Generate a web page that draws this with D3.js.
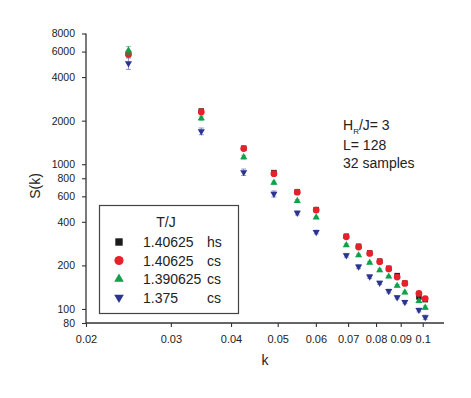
<!DOCTYPE html>
<html>
<head>
<meta charset="utf-8">
<script src="https://cdn.jsdelivr.net/npm/d3@7"></script>
<style>
    body { margin: 0; background: #fff; }
    svg { display: block; }
</style>
</head>
<body>
<script>
// wave vectors k and structure factor S(k) for each run
const kValues = [0.0245, 0.0347, 0.0425, 0.0491, 0.0549, 0.0601, 0.0694, 0.0736, 0.0776, 0.0814, 0.0850, 0.0885, 0.0918, 0.0982, 0.1012];

const sHs140625 = [5800, 2330, 1290, 875, 645, 486, 318, 271, 244, 214, 191, 170, 151, 121, 116];
const sCs140625 = [5740, 2295, 1283, 860, 641, 482, 315, 268, 242, 212, 189, 166, 150, 128, 118];
const sCs1390625 = [6110, 2076, 1118, 746, 558, 429, 276, 235, 209, 185, 167.5, 144.7, 130, 113.5, 102];
const sCs1375 = [4970, 1689, 881, 624, 461, 340, 235, 196, 167.5, 151.6, 133, 120.4, 111.7, 98.4, 87.7];

const errHs140625 = [250, 50, 25, 15, 10, 8, 5, 4, 4, 3, 3, 3, 2, 2, 2];
const errCs140625 = [250, 50, 25, 15, 10, 8, 5, 4, 4, 3, 3, 3, 2, 2, 2];
const errCs1390625 = [400, 70, 35, 20, 12, 8, 6, 5, 4, 4, 3, 3, 3, 3, 3];
const errCs1375 = [450, 90, 45, 30, 15, 10, 7, 6, 5, 4, 4, 3, 3, 3, 3];

const seriesTemps = ["1.40625", "1.40625", "1.390625", "1.375"];
const seriesKinds = ["hs", "cs", "cs", "cs"];

const xTicks = [0.02, 0.03, 0.04, 0.05, 0.06, 0.07, 0.08, 0.09, 0.1];
const yTicks = [80, 100, 200, 400, 600, 800, 1000, 2000, 4000, 6000, 8000];

const notes = ["L= 128", "32 samples"];

const FONT = '"Liberation Sans", Arial, sans-serif';

const series = [
    {values: sHs140625, errors: errHs140625, color: "#1b1b1b", shape: "square"},
    {values: sCs140625, errors: errCs140625, color: "#e8202a", shape: "circle"},
    {values: sCs1390625, errors: errCs1390625, color: "#0fa14a", shape: "up"},
    {values: sCs1375, errors: errCs1375, color: "#2b3590", shape: "down"}
].map((s, i) => ({...s, temp: seriesTemps[i], kind: seriesKinds[i]}));

const width = 471, height = 398;

const svg = d3.select("body").append("svg")
    .attr("width", width)
    .attr("height", height);

const xScale = d3.scaleLog().domain([0.02, 0.1107]).range([86, 444]);
const yScale = d3.scaleLog().domain([80, 8000]).range([323, 33.5]);

function markerPath(shape, scale) {
    const s = scale || 1;
    if (shape === "square") return d3.symbol(d3.symbolSquare, 30 * s * s)();
    if (shape === "circle") return d3.symbol(d3.symbolCircle, 36 * s * s)();
    return d3.symbol(d3.symbolTriangle, 22 * s * s)();
}

function renderAxes() {
    const yAxis = d3.axisLeft(yScale)
        .tickValues(yTicks)
        .tickFormat(d3.format("d"))
        .tickSize(4)
        .tickPadding(7);
    const gy = svg.append("g")
        .attr("transform", "translate(86,0)")
        .style("font-size", "10.5px")
        .style("font-family", FONT)
        .call(yAxis);

    const xAxis = d3.axisBottom(xScale)
        .tickValues(xTicks)
        .tickFormat((d) => d)
        .tickSize(4)
        .tickPadding(8);
    const gx = svg.append("g")
        .attr("transform", "translate(0,323)")
        .style("font-size", "11px")
        .style("font-family", FONT)
        .call(xAxis);

    [gx, gy].forEach((g) => {
        g.select(".domain").attr("stroke", "#333").attr("stroke-width", 1.3);
        g.selectAll(".tick line").attr("stroke", "#333").attr("stroke-width", 1.1);
        g.selectAll(".tick text").attr("fill", "#222");
    });
    // straight axis lines without end caps
    gy.select(".domain").attr("d", "M0," + yScale(8000) + "V323");
    gx.select(".domain").attr("d", "M86,0H444");

    svg.append("text")
        .attr("transform", "translate(40,186) rotate(-90)")
        .attr("text-anchor", "middle")
        .style("font-family", FONT)
        .style("font-size", "14px")
        .attr("fill", "#222")
        .text("S(k)");

    svg.append("text")
        .attr("x", 265)
        .attr("y", 365)
        .attr("text-anchor", "middle")
        .style("font-family", FONT)
        .style("font-size", "14px")
        .attr("fill", "#222")
        .text("k");
}

function renderSeries() {
    series.forEach((s) => {
        const g = svg.append("g");
        const pts = kValues.map((k, i) => ({k: k, v: s.values[i], e: s.errors[i]}));

        // error bars
        g.selectAll("path.err")
            .data(pts)
            .enter()
            .append("path")
            .attr("class", "err")
            .attr("fill", "none")
            .attr("stroke", s.color)
            .attr("stroke-opacity", 0.5)
            .attr("stroke-width", 1)
            .attr("d", function (d) {
                const x = xScale(d.k);
                const y1 = yScale(d.v + d.e), y2 = yScale(d.v - d.e);
                return "M" + (x - 2.5) + "," + y1 + "H" + (x + 2.5)
                    + "M" + x + "," + y1 + "V" + y2
                    + "M" + (x - 2.5) + "," + y2 + "H" + (x + 2.5);
            });

        g.selectAll("path.mark")
            .data(pts)
            .enter()
            .append("path")
            .attr("class", "mark")
            .attr("fill", s.color)
            .attr("d", markerPath(s.shape))
            .attr("transform", function (d) {
                const t = "translate(" + xScale(d.k) + "," + yScale(d.v) + ")";
                return s.shape === "down" ? t + " rotate(180)" : t;
            });
    });
}

function renderLegend() {
    const g = svg.append("g").style("font-family", FONT);
    g.append("rect")
        .attr("x", 99.5).attr("y", 205.5)
        .attr("width", 139).attr("height", 108)
        .attr("fill", "#fff")
        .attr("stroke", "#444")
        .attr("stroke-width", 1.2);

    g.append("text")
        .attr("x", 166).attr("y", 227)
        .attr("text-anchor", "middle")
        .style("font-size", "14px")
        .attr("fill", "#222")
        .text("T/J");

    const rowY = [242, 260.5, 279, 297.5];
    series.forEach((s, i) => {
        g.append("path")
            .attr("d", markerPath(s.shape, 1.35))
            .attr("fill", s.color)
            .attr("transform", "translate(119," + rowY[i] + ")" + (s.shape === "down" ? " rotate(180)" : ""));
        g.append("text")
            .attr("x", 143).attr("y", rowY[i] + 5)
            .style("font-size", "14px")
            .attr("fill", "#222")
            .text(s.temp);
        g.append("text")
            .attr("x", 207).attr("y", rowY[i] + 5)
            .style("font-size", "14px")
            .attr("fill", "#222")
            .text(s.kind);
    });
}

function renderNotes() {
    const g = svg.append("g")
        .style("font-family", FONT)
        .style("font-size", "14px")
        .attr("fill", "#222");
    const first = g.append("text").attr("x", 343).attr("y", 130);
    first.append("tspan").text("H");
    first.append("tspan").attr("dy", 4).style("font-size", "8px").text("R");
    first.append("tspan").attr("dy", -4).text("/J= 3");

    g.selectAll("text.note")
        .data(notes)
        .enter()
        .append("text")
        .attr("class", "note")
        .attr("x", 343)
        .attr("y", (d, i) => 150 + i * 18)
        .text((d) => d);
}

renderAxes();
renderSeries();
renderLegend();
renderNotes();
</script>
</body>
</html>
